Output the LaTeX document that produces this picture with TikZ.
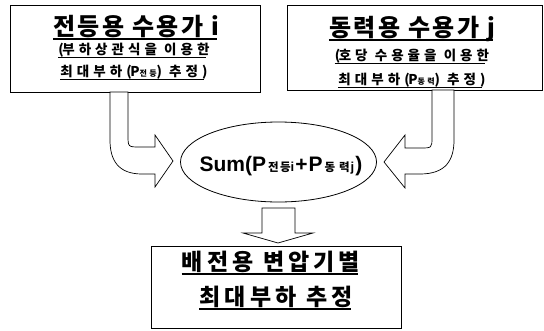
\documentclass[tikz,border=0pt]{standalone}
\usepackage{fontspec}
\setmainfont{Liberation Sans}
\newfontfamily\krT[LetterSpace=10]{Noto Sans CJK KR}
\newfontfamily\krB[LetterSpace=18]{Noto Sans CJK KR}
\newfontfamily\krS[LetterSpace=30]{Noto Sans CJK KR}
\newfontfamily\krE[LetterSpace=12]{Noto Sans CJK KR}
\usetikzlibrary{shapes.geometric}
\newcommand{\subkr}[1]{{\fontsize{11.5}{11.5}\selectfont\krE\bfseries #1}}
\newcommand{\subsm}[1]{{\fontsize{13}{13}\selectfont\bfseries #1}}
\begin{document}
\begin{tikzpicture}[x=1pt,y=-1pt,
  box/.style={draw, line width=0.9pt, inner sep=0pt},
  ttl/.style={inner sep=0pt, font=\fontsize{24}{26}\selectfont\krT\bfseries},
  btl/.style={inner sep=0pt, font=\fontsize{23}{25}\selectfont\krB\bfseries},
  sub/.style={inner sep=0pt, font=\fontsize{13.5}{15}\selectfont\krS\bfseries},
  ul/.style={line width=1.3pt},
  uls/.style={line width=0.9pt},
  blk/.style={draw, fill=white, line width=0.7pt, line join=miter}]
\useasboundingbox (0,0) rectangle (544,330);
% boxes
\node[box, minimum width=250pt, minimum height=87pt] (L) at (135,48.5) {};
\node[box, minimum width=255pt, minimum height=85pt] (R) at (414.5,47.5) {};
\node[box, minimum width=250pt, minimum height=82pt] (B) at (276,287) {};
\node[draw, ellipse, line width=0.8pt, minimum width=196pt, minimum height=80pt, inner sep=0pt] (E) at (278.5,162) {};
% texts
\node[ttl, anchor=base] (Lt) at (136,35) {전등용 수용가 i};
\node[sub, anchor=base] (Ls1) at (134,54) {(\hspace{-1.5pt}부하상관식을 이용한};
\node[sub, anchor=base] (Ls2) at (134,76) {최대부하(\hspace{-1.5pt}P{\fontsize{8}{8}\selectfont 전등}) 추정)};
\node[ttl, anchor=base] (Rt) at (412,36) {동력용 수용가 j};
\node[sub, anchor=base] (Rs1) at (412,60) {(\hspace{-1.5pt}호당 수용율을 이용한};
\node[sub, anchor=base] (Rs2) at (412,84) {최대부하(\hspace{-1.5pt}P{\fontsize{8}{8}\selectfont 동력}) 추정)};
\node[inner sep=0pt, anchor=base, font=\fontsize{21}{23}\selectfont\bfseries] (Et) at (281,171)
  {Sum(P\hspace{2pt}\subkr{전등}\subsm{i}\hspace{1pt}+\hspace{1pt}P\hspace{2pt}\subkr{동\hspace{4pt}력}\hspace{1pt}\subsm{j}\hspace{1pt})};
\node[btl, anchor=base] (Bt1) at (271,270) {배전용 변압기별};
\node[btl, anchor=base] (Bt2) at (276,305) {최대부하 추정};
% underlines
\foreach \n in {Lt,Rt,Bt1,Bt2}
  \draw[ul] ([yshift=-4pt]\n.base west) -- ([yshift=-4pt,xshift=-2pt]\n.base east);
\foreach \n in {Ls1,Ls2,Rs1,Rs2}
  \draw[uls] ([yshift=-3pt]\n.base west) -- ([yshift=-3pt,xshift=-4pt]\n.base east);
% block arrows
\draw[blk] (128,92) -- (128,135) .. controls (128,147) and (128,147) .. (140,147)
  -- (155,147) -- (155,135) -- (173,161) -- (155,187) -- (155,174) -- (142,174)
  .. controls (118,174) and (110,160) .. (110,140) -- (110,92) -- cycle;
\draw[blk] (432,90) -- (432,137) .. controls (432,148) and (432,148) .. (420,148)
  -- (405,148) -- (405,135) -- (384,162) -- (405,188) -- (405,174) -- (420,174)
  .. controls (446,174) and (454,160) .. (454,140) -- (454,90) -- cycle;
\draw[blk] (262,208) -- (295,208) -- (295,233) -- (313,233) -- (278,243)
  -- (243,233) -- (262,233) -- cycle;
\end{tikzpicture}
\end{document}
